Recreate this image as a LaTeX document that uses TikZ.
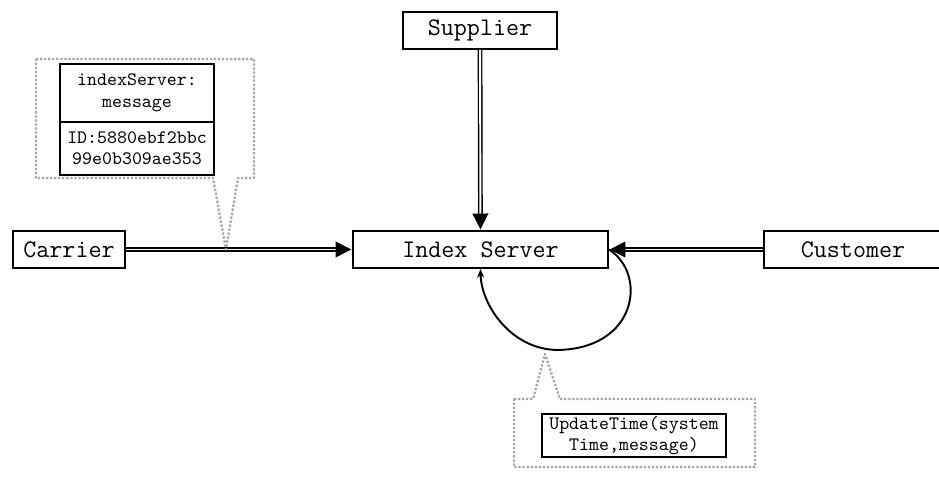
\documentclass[tikz,border=0pt]{standalone}
\usepackage{tikz}
\usetikzlibrary{calc,positioning,arrows.meta,shapes.multipart}
\tikzstyle{entity}   = [rectangle, draw=black, line width=1.1pt, minimum height=0.74cm, inner sep=0pt, font=\ttfamily\fontsize{14.4}{16}\selectfont]
\tikzstyle{msg}      = [rectangle, draw=black, line width=1.1pt, align=center, inner xsep=0pt, font=\ttfamily\fontsize{10.8}{12.3}\selectfont]
\tikzstyle{flow}     = [double=white, line width=0.8pt, double distance=1.1pt, -{Triangle[length=9pt,width=9pt]}, shorten >=0.4pt]
\tikzstyle{selfloop} = [line width=1.1pt, -{Stealth[length=5pt,width=4pt]}]
\tikzstyle{callout}  = [gray!70, densely dotted, line width=1.3pt, line join=round]

\begin{document}
\begin{tikzpicture}[]
        \useasboundingbox (0,0) rectangle (18.78,9.58);

        % actors
        \node[entity, minimum width=5.10cm] (srv) at (9.61,4.59) {Index Server};
        \node[entity, minimum width=3.08cm] (sup) at (9.60,8.97) {Supplier};
        \node[entity, minimum width=2.24cm] (car) at (1.38,4.59) {Carrier};
        \node[entity, minimum width=3.56cm] (cus) at (17.06,4.59) {Customer};

        % flows
        \draw[flow] (sup) -- (srv);
        \draw[flow] (car) -- (srv);
        \draw[flow] (cus) -- (srv);
        \draw[selfloop] (srv.east) .. controls (12.95,4.1) and (12.75,2.6) .. (11.14,2.58)
                        .. controls (10.2,2.6) and (9.62,3.5) .. (srv.south);

        % message callout
        \coordinate (tip1) at (4.52,4.59);
        \draw[callout] (0.72,8.40) -- (5.08,8.40) -- (5.08,6.02) -- (4.76,6.02) -- (tip1)
                       -- (4.26,6.02) -- (0.72,6.02) -- cycle;
        \node[msg, rectangle split, rectangle split parts=2, text width=3.08cm,
              inner ysep=5pt] (idmsg) at (2.74,7.19)
              {indexServer:\\message \nodepart{second} ID:5880ebf2bbc\\99e0b309ae353};

        % update callout
        \coordinate (tip2) at (10.90,2.50);
        \draw[callout] (10.28,1.60) -- (10.66,1.60) -- (tip2) -- (11.20,1.60) -- (15.10,1.60)
                       -- (15.10,0.24) -- (10.28,0.24) -- cycle;
        \node[msg, minimum width=3.68cm, minimum height=0.86cm, inner ysep=0pt] (upd) at (12.68,0.87)
              {UpdateTime(system\\Time,message)};
    \end{tikzpicture}
\end{document}
